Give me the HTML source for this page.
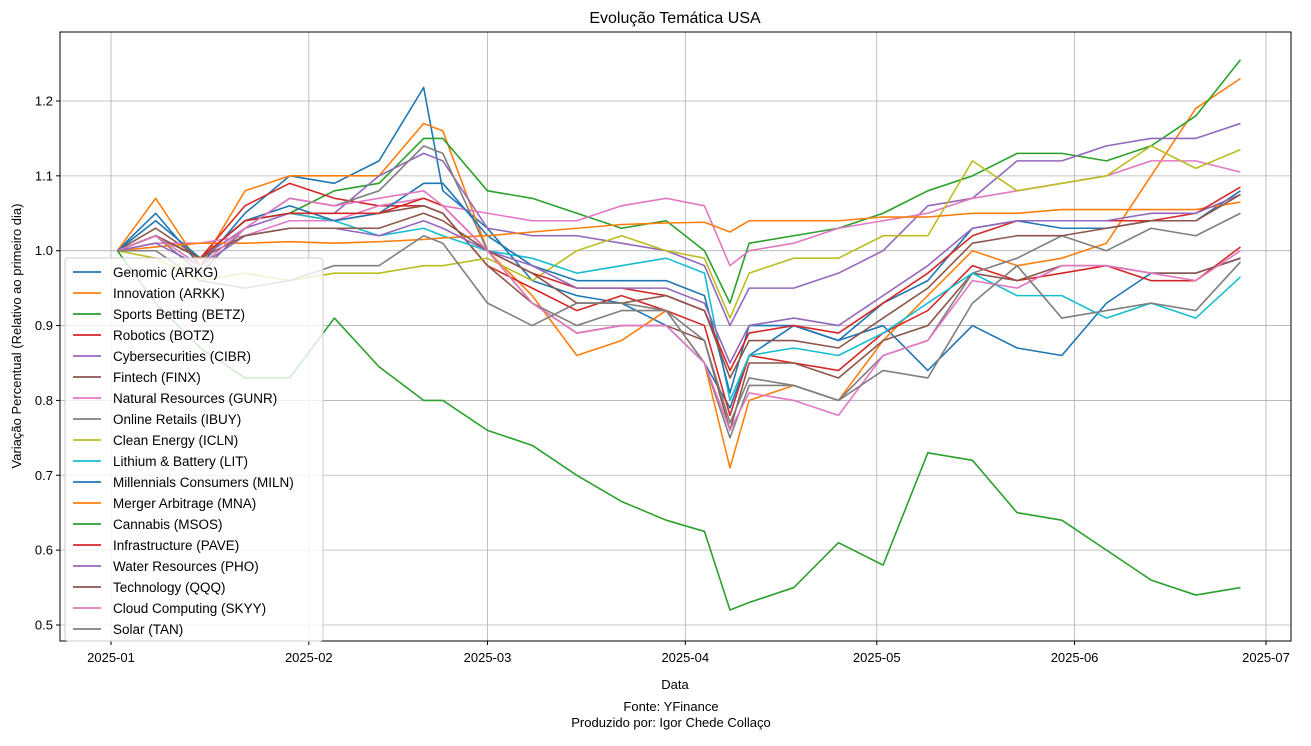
<!DOCTYPE html>
<html><head><meta charset="utf-8"><style>
body{margin:0;background:#fff;font-family:"Liberation Sans",sans-serif;}
svg text{font-family:"Liberation Sans","DejaVu Sans",sans-serif;}
</style></head><body>
<svg id="c" width="1311" height="741"></svg>
<script>
const days=[1,7,14,21,28,35,42,49,52,59,66,73,80,87,93,97,100,107,114,121,128,135,142,149,156,163,170,177];
const seriesNames=["Genomic (ARKG)","Innovation (ARKK)","Sports Betting (BETZ)","Robotics (BOTZ)","Cybersecurities (CIBR)","Fintech (FINX)","Natural Resources (GUNR)","Online Retails (IBUY)","Clean Energy (ICLN)","Lithium & Battery (LIT)","Millennials Consumers (MILN)","Merger Arbitrage (MNA)","Cannabis (MSOS)","Infrastructure (PAVE)","Water Resources (PHO)","Technology (QQQ)","Cloud Computing (SKYY)","Solar (TAN)"];
const arkg=[1.0,1.05,0.98,1.05,1.10,1.09,1.12,1.218,1.08,1.03,0.96,0.94,0.93,0.90,0.85,0.79,0.86,0.90,0.88,0.90,0.84,0.90,0.87,0.86,0.93,0.97,0.97,0.99];
const arkk=[1.0,1.07,0.98,1.08,1.10,1.10,1.10,1.17,1.16,1.00,0.94,0.86,0.88,0.92,0.85,0.71,0.80,0.82,0.80,0.88,0.94,1.00,0.98,0.99,1.01,1.10,1.19,1.23];
const betz=[1.0,1.02,0.99,1.04,1.05,1.08,1.09,1.15,1.15,1.08,1.07,1.05,1.03,1.04,1.0,0.93,1.01,1.02,1.03,1.05,1.08,1.10,1.13,1.13,1.12,1.14,1.18,1.255];
const botz=[1.0,1.02,0.99,1.06,1.09,1.07,1.06,1.06,1.05,0.98,0.95,0.92,0.94,0.92,0.90,0.78,0.86,0.85,0.84,0.89,0.92,0.98,0.96,0.97,0.98,0.96,0.96,1.005];
const cibr=[1.0,1.02,0.99,1.03,1.05,1.05,1.10,1.13,1.12,1.03,1.02,1.02,1.01,1.0,0.98,0.90,0.95,0.95,0.97,1.0,1.06,1.07,1.12,1.12,1.14,1.15,1.15,1.17];
const finx=[1.0,1.03,0.99,1.04,1.05,1.04,1.05,1.06,1.05,0.98,0.93,0.89,0.90,0.90,0.88,0.76,0.85,0.85,0.83,0.88,0.90,0.97,0.96,0.98,0.98,0.97,0.97,0.99];
const gunr=[1.0,1.01,1.01,1.02,1.04,1.04,1.06,1.07,1.06,1.05,1.04,1.04,1.06,1.07,1.06,0.98,1.0,1.01,1.03,1.04,1.05,1.07,1.08,1.09,1.10,1.12,1.12,1.105];
const ibuy=[1.0,1.02,0.97,1.03,1.07,1.06,1.08,1.14,1.13,1.0,0.93,0.90,0.92,0.92,0.85,0.75,0.82,0.82,0.80,0.86,0.88,0.97,0.99,1.02,1.0,1.03,1.02,1.05];
const icln=[1.0,0.99,0.96,0.97,0.96,0.97,0.97,0.98,0.98,0.99,0.96,1.0,1.02,1.0,0.99,0.91,0.97,0.99,0.99,1.02,1.02,1.12,1.08,1.09,1.10,1.14,1.11,1.135];
const lit=[1.0,1.02,0.99,1.04,1.05,1.04,1.02,1.03,1.02,1.0,0.99,0.97,0.98,0.99,0.97,0.80,0.86,0.87,0.86,0.89,0.93,0.97,0.94,0.94,0.91,0.93,0.91,0.965];
const miln=[1.0,1.04,0.99,1.04,1.06,1.04,1.05,1.09,1.09,1.02,0.98,0.96,0.96,0.96,0.94,0.81,0.90,0.90,0.88,0.93,0.96,1.03,1.04,1.03,1.03,1.04,1.04,1.08];
const mna=[1.0,1.005,1.01,1.01,1.012,1.01,1.012,1.015,1.017,1.02,1.025,1.03,1.035,1.037,1.038,1.025,1.04,1.04,1.04,1.045,1.045,1.05,1.05,1.055,1.055,1.055,1.055,1.065];
const msos=[1.0,0.93,0.87,0.83,0.83,0.91,0.845,0.80,0.80,0.76,0.74,0.70,0.665,0.64,0.625,0.52,0.53,0.55,0.61,0.58,0.73,0.72,0.65,0.64,0.60,0.56,0.54,0.55];
const pave=[1.0,1.02,0.99,1.04,1.05,1.05,1.05,1.07,1.06,1.00,0.97,0.95,0.95,0.94,0.92,0.84,0.89,0.90,0.89,0.93,0.97,1.02,1.04,1.04,1.04,1.04,1.05,1.085];
const pho=[1.0,1.01,0.98,1.02,1.03,1.03,1.02,1.04,1.03,1.0,0.98,0.95,0.95,0.95,0.93,0.85,0.90,0.91,0.90,0.94,0.98,1.03,1.04,1.04,1.04,1.05,1.05,1.075];
const qqq=[1.0,1.02,0.99,1.02,1.03,1.03,1.03,1.05,1.04,1.0,0.97,0.93,0.93,0.94,0.92,0.83,0.88,0.88,0.87,0.91,0.95,1.01,1.02,1.02,1.03,1.04,1.04,1.075];
const skyy=[1.0,1.02,0.98,1.03,1.07,1.06,1.07,1.08,1.06,1.0,0.93,0.89,0.90,0.90,0.85,0.76,0.81,0.80,0.78,0.86,0.88,0.96,0.95,0.98,0.98,0.97,0.96,1.0];
const tan=[1.0,1.0,0.96,0.95,0.96,0.98,0.98,1.02,1.01,0.93,0.90,0.93,0.93,0.92,0.88,0.77,0.83,0.82,0.80,0.84,0.83,0.93,0.98,0.91,0.92,0.93,0.92,0.985];
const yTicks=[0.5,0.6,0.7,0.8,0.9,1.0,1.1,1.2];
const yTickLabels=["0.5","0.6","0.7","0.8","0.9","1.0","1.1","1.2"];
const xTickDays=[0,31,59,90,120,151,181];
const xTickLabels=["2025-01","2025-02","2025-03","2025-04","2025-05","2025-06","2025-07"];
const allSeries=[arkg,arkk,betz,botz,cibr,finx,gunr,ibuy,icln,lit,miln,mna,msos,pave,pho,qqq,skyy,tan];
const colors=["#1f77b4","#ff7f0e","#2ca02c","#d62728","#9467bd","#8c564b","#e377c2","#7f7f7f","#bcbd22","#17becf"];
const L=60,R=1291,T=32,B=641;
const X=d=>111+d*1155/181;
const Y=v=>625-(v-0.5)*748.6;
const NS="http://www.w3.org/2000/svg";
const svg=document.getElementById('c');
function mk(tag,attrs,parent){const e=document.createElementNS(NS,tag);for(const k in attrs)e.setAttribute(k,attrs[k]);(parent||svg).appendChild(e);return e;}
function txt(s,attrs,parent){const e=mk('text',attrs,parent);e.textContent=s;return e;}
const grid=mk('g',{});


yTicks.forEach((v,i)=>{
 mk('line',{x1:L,x2:R,y1:Y(v),y2:Y(v),stroke:'#b0b0b0','stroke-width':0.8},grid);
 mk('line',{x1:L-4,x2:L,y1:Y(v),y2:Y(v),stroke:'#000'});
 const t=txt(yTickLabels[i],{x:L-7,y:Y(v)+4.5,'text-anchor':'end','font-size':13});
 
 
});
xTickDays.forEach((d,i)=>{
 mk('line',{x1:X(d),x2:X(d),y1:T,y2:B,stroke:'#b0b0b0','stroke-width':0.8},grid);
 mk('line',{x1:X(d),x2:X(d),y1:B,y2:B+4,stroke:'#000'});
 const t=txt(xTickLabels[i],{x:X(d),y:B+21,'text-anchor':'middle','font-size':13});
 
 
});
allSeries.forEach((s,i)=>{
 const p=mk('polyline',{points:s.map((v,j)=>X(days[j])+','+Y(v)).join(' '),fill:'none',stroke:colors[i%10],'stroke-width':1.6,'stroke-linejoin':'round'});
 
 
});
mk('rect',{x:L,y:T,width:R-L,height:B-T,fill:'none',stroke:'#000','stroke-width':1});
const lg=mk('g',{});


mk('rect',{x:65,y:258,width:258,height:383,rx:3,fill:'#fff','fill-opacity':0.8,stroke:'#ccc'},lg);
seriesNames.forEach((n,i)=>{
 const y=272+i*21;
 mk('line',{x1:73,x2:101,y1:y,y2:y,stroke:colors[i%10],'stroke-width':1.8},lg);
 const t=txt(n,{x:113,y:y+5,'font-size':13.5},lg);
 
 
});
let t=txt('Evolução Temática USA',{x:675,y:23,'text-anchor':'middle','font-size':16});


t=txt('Data',{x:675,y:689,'text-anchor':'middle','font-size':13});


t=txt('Variação Percentual (Relativo ao primeiro dia)',{x:0,y:0,'text-anchor':'middle','font-size':13,transform:'translate(21,336) rotate(-90)'});


t=txt('Fonte: YFinance',{x:671,y:711,'text-anchor':'middle','font-size':13});


t=txt('Produzido por: Igor Chede Collaço',{x:671,y:727,'text-anchor':'middle','font-size':13});


</script>
</body></html>
